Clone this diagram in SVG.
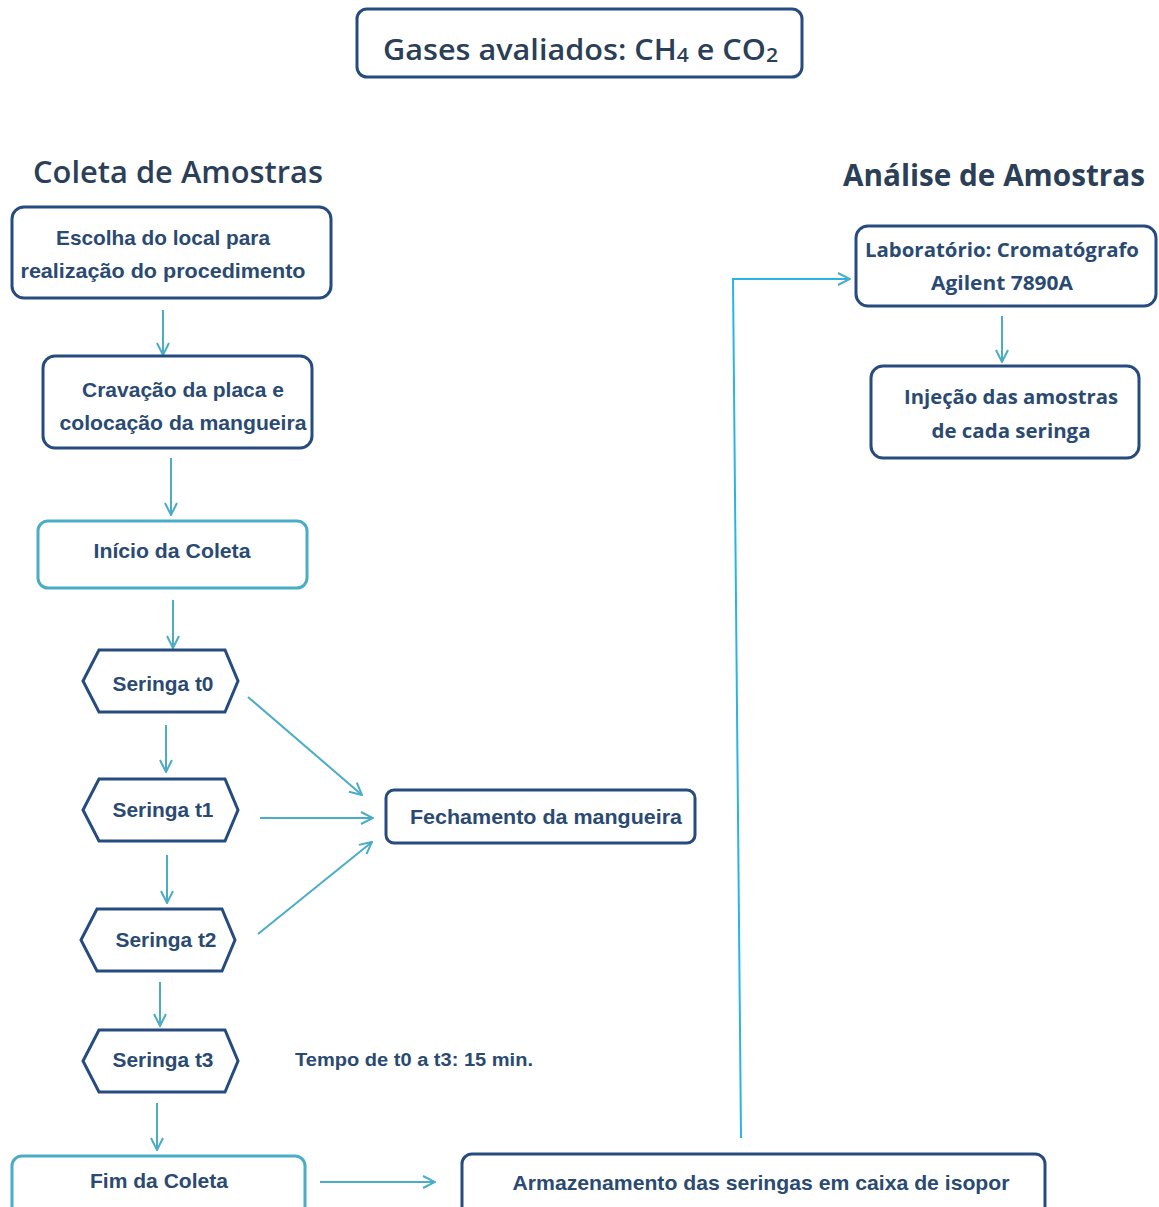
<svg xmlns="http://www.w3.org/2000/svg" width="1159" height="1207" viewBox="0 0 1159 1207">
<style>
.box{fill:#fff;stroke:#264b7e;stroke-width:3}
.lbox{fill:#fff;stroke:#4bacc6;stroke-width:3}
.t{font-family:"Liberation Sans Narrow","Liberation Sans",Arial,sans-serif;font-weight:bold;font-size:21px;fill:#2a4a72;text-anchor:middle}
.tr{font-family:"Open Sans","Liberation Sans",Arial,sans-serif;font-weight:bold;font-size:19px;fill:#2a4a72;text-anchor:middle}
.h{font-family:"Open Sans","Liberation Sans",Arial,sans-serif;font-weight:600;font-size:30px;fill:#2c3f58}
.c{fill:none;stroke:#4bacc6;stroke-width:2;marker-end:url(#ah)}
</style>
<defs>
<marker id="ah" viewBox="0 0 14 14" refX="13" refY="7" markerWidth="14" markerHeight="14" markerUnits="userSpaceOnUse" orient="auto">
<path d="M1,1 L13,7 L1,13" fill="none" stroke="#4bacc6" stroke-width="2"/>
</marker>
</defs>
<rect width="1159" height="1207" fill="#fff"/>

<g id="title">
<rect class="box" x="357" y="9" width="445" height="68" rx="10"/>
<text x="383" y="60" class="h" style="font-weight:600;font-size:29px" textLength="395" lengthAdjust="spacingAndGlyphs">Gases avaliados: CH<tspan font-size="20" dy="2">4</tspan><tspan dy="-2"> e CO</tspan><tspan font-size="20" dy="2">2</tspan></text>
</g>

<g id="header-coleta">
<text x="33" y="183" class="h" textLength="290" lengthAdjust="spacingAndGlyphs">Coleta de Amostras</text>
</g>
<g id="header-analise">
<text x="843" y="186" class="h" style="font-weight:bold" textLength="302" lengthAdjust="spacingAndGlyphs">Análise de Amostras</text>
</g>

<g id="connectors">
<line class="c" x1="163" y1="310" x2="163" y2="355"/>
<line class="c" x1="171" y1="458" x2="171" y2="515"/>
<line class="c" x1="173" y1="600" x2="173" y2="648"/>
<line class="c" x1="166" y1="725" x2="166" y2="772"/>
<line class="c" x1="167" y1="855" x2="167" y2="903"/>
<line class="c" x1="160" y1="982" x2="160" y2="1026"/>
<line class="c" x1="157" y1="1103" x2="157" y2="1150"/>
<line class="c" x1="248" y1="697" x2="362" y2="795"/>
<line class="c" x1="260" y1="818" x2="373" y2="818"/>
<line class="c" x1="258" y1="934" x2="372" y2="842"/>
<line class="c" x1="320" y1="1182" x2="435" y2="1182"/>
<polyline class="c" points="741,1138 733,279 850,279" style="stroke:#2ab4e4"/>
<line class="c" x1="1002" y1="316" x2="1002" y2="362"/>
</g>

<g id="n-escolha">
<rect class="box" x="12" y="207" width="319" height="91" rx="12"/>
<text class="t" x="163" y="245" textLength="214" lengthAdjust="spacingAndGlyphs">Escolha do local para</text>
<text class="t" x="163" y="278" textLength="285" lengthAdjust="spacingAndGlyphs">realização do procedimento</text>
</g>
<g id="n-cravacao">
<rect class="box" x="43" y="356" width="269" height="92" rx="12"/>
<text class="t" x="183" y="397" textLength="202" lengthAdjust="spacingAndGlyphs">Cravação da placa e</text>
<text class="t" x="183" y="430" textLength="247" lengthAdjust="spacingAndGlyphs">colocação da mangueira</text>
</g>
<g id="n-inicio">
<rect class="lbox" x="38" y="521" width="269" height="67" rx="10"/>
<text class="t" x="172" y="558" textLength="157" lengthAdjust="spacingAndGlyphs">Início da Coleta</text>
</g>
<g id="n-t0">
<polygon class="box" points="83,681 99,650 225,650 238,681 225,712 99,712"/>
<text class="t" x="163" y="691" textLength="101" lengthAdjust="spacingAndGlyphs">Seringa t0</text>
</g>
<g id="n-t1">
<polygon class="box" points="83,810 99,779 225,779 238,810 225,841 99,841"/>
<text class="t" x="163" y="817" textLength="101" lengthAdjust="spacingAndGlyphs">Seringa t1</text>
</g>
<g id="n-t2">
<polygon class="box" points="81,940 97,909 222,909 235,940 222,971 97,971"/>
<text class="t" x="166" y="947" textLength="101" lengthAdjust="spacingAndGlyphs">Seringa t2</text>
</g>
<g id="n-t3">
<polygon class="box" points="83,1061 99,1030 225,1030 238,1061 225,1092 99,1092"/>
<text class="t" x="163" y="1067" textLength="101" lengthAdjust="spacingAndGlyphs">Seringa t3</text>
</g>
<g id="n-fechamento">
<rect class="box" x="386" y="790" width="309" height="53" rx="8"/>
<text class="t" x="546" y="824" textLength="272" lengthAdjust="spacingAndGlyphs">Fechamento da mangueira</text>
</g>
<g id="n-tempo">
<text class="t" x="295" y="1066" style="text-anchor:start;font-size:18px" textLength="238" lengthAdjust="spacingAndGlyphs">Tempo de t0 a t3: 15 min.</text>
</g>
<g id="n-fim">
<rect class="lbox" x="12" y="1156" width="293" height="70" rx="10"/>
<text class="t" x="159" y="1188" textLength="138" lengthAdjust="spacingAndGlyphs">Fim da Coleta</text>
</g>
<g id="n-armazenamento">
<rect class="box" x="462" y="1154" width="583" height="72" rx="10"/>
<text class="t" x="761" y="1190" textLength="497" lengthAdjust="spacingAndGlyphs">Armazenamento das seringas em caixa de isopor</text>
</g>
<g id="n-laboratorio">
<rect class="box" x="856" y="226" width="300" height="80" rx="12"/>
<text class="tr" x="1002" y="257" textLength="274" lengthAdjust="spacingAndGlyphs">Laboratório: Cromatógrafo</text>
<text class="tr" x="1002" y="290" textLength="142" lengthAdjust="spacingAndGlyphs">Agilent 7890A</text>
</g>
<g id="n-injecao">
<rect class="box" x="871" y="366" width="268" height="92" rx="12"/>
<text class="tr" x="1011" y="404" textLength="214" lengthAdjust="spacingAndGlyphs">Injeção das amostras</text>
<text class="tr" x="1011" y="438" textLength="159" lengthAdjust="spacingAndGlyphs">de cada seringa</text>
</g>
</svg>
